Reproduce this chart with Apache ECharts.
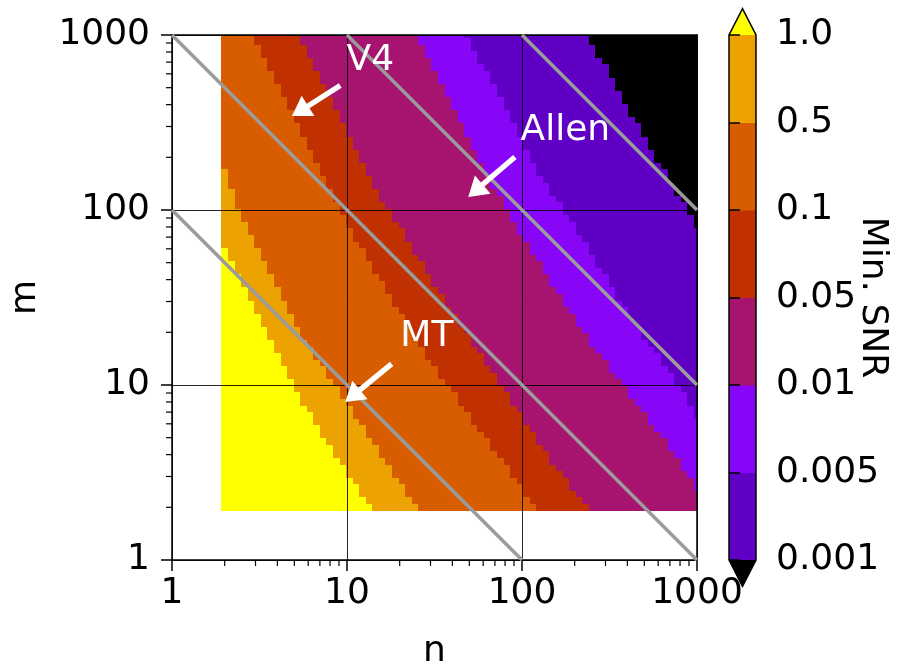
<!DOCTYPE html>
<html><head><meta charset="utf-8">
<script src="https://cdn.jsdelivr.net/npm/echarts@6/dist/echarts.min.js"></script>
<style>html,body{margin:0;padding:0;background:#fff}#c{width:905px;height:668px}</style>
</head><body><div id="c"></div>
<script>
// ---- data -------------------------------------------------------------
// sampling grid used for both n (columns) and m (rows)
const N_VALUES = [2.000,2.180,2.377,2.591,2.825,3.079,3.357,3.659,3.989,4.349,4.741,5.168,5.634,6.142,6.696,7.300,7.958,8.675,9.457,
  10.31,11.24,12.25,13.36,14.56,15.87,17.30,18.87,20.57,22.42,24.44,26.65,29.05,31.67,34.52,37.63,41.03,44.72,48.76,53.15,57.94,63.16,68.86,75.07,81.83,89.21,97.26,
  106.0,115.6,126.0,137.4,149.7,163.2,178.0,194.0,211.5,230.5,251.3,274.0,298.7,325.6,355.0,387.0,421.9,459.9,501.4,546.6,595.8,649.6,708.1,772.0,841.5,917.4,1000];
const M_VALUES = N_VALUES;

// For each column (n index), highest row (m index) whose Min. SNR is >= the threshold.
// Columns past the end of a list have no cell reaching that threshold.
const TOP_GE_0_001 = [72,72,72,72,72,72,72,72,72,72,72,72,72,72,72,72,72,72,72,72,72,72,72,72,72,72,72,72,
  72,72,72,72,72,72,72,72,72,72,72,72,72,72,72,72,72,72,72,72,72,72,72,72,72,72,72,72,
  70,68,67,65,63,61,59,58,56,54,52,51,49,47,46,44,42];
const TOP_GE_0_005 = [72,72,72,72,72,72,72,72,72,72,72,72,72,72,72,72,72,72,72,72,72,72,72,72,72,72,72,72,72,72,72,72,72,72,72,72,72,
  71,69,67,66,64,62,60,58,56,54,52,50,49,47,46,44,43,41,40,38,36,35,33,31,30,28,27,25,24,23,21,20,18,17,15,13];
const TOP_GE_0_01 = [72,72,72,72,72,72,72,72,72,72,72,72,72,72,72,72,72,72,72,72,72,72,72,72,72,72,72,72,72,72,
  70,68,66,64,62,60,58,56,54,52,50,48,47,45,43,41,40,38,37,35,33,32,30,29,27,26,24,23,22,20,19,18,16,15,14,12,11,10,8,7,5,4,2];
const TOP_GE_0_05 = [72,72,72,72,72,72,72,72,72,72,72,72,
  70,68,66,64,62,60,58,56,54,52,50,48,46,45,43,42,40,38,37,35,33,32,30,29,27,26,24,23,21,20,18,17,15,14,12,11,9,8,6,5,4,2,1,0];
const TOP_GE_0_1 = [72,72,72,72,72,
  70,68,66,64,62,60,58,56,54,52,50,48,46,44,42,40,39,37,35,34,32,30,29,27,25,24,22,21,19,18,17,15,14,12,11,10,8,7,6,4,3,1,0];
const TOP_GE_0_5 = [51,48,45,43,41,39,37,35,33,31,29,27,25,24,22,21,19,18,16,15,13,12,10,9,7,6,4,3,1,0];
const TOP_GE_1 = [39,37,35,33,31,29,27,25,23,21,19,17,15,14,12,10,9,7,6,4,3,1,0];

// colour classes (below 0.001 ... above 1.0)
const LEVEL_COLORS = ['#000000','#6000c5','#8806f8','#a71470','#c13000','#d75d00','#eca200','#ffff00'];
const CB_LABELS = ['0.001','0.005','0.01','0.05','0.1','0.5','1.0'];
const AXIS_TICK_LABELS = {1:'1',10:'10',100:'100',1000:'1000'};
const MINOR_TICKS = [2,3,4,5,6,7,8,9,20,30,40,50,60,70,80,90,200,300,400,500,600,700,800,900];

// grey guide lines (m*n constant)
const GUIDE_LINES = [
  [[1,100],[100,1]],
  [[1,1000],[1000,1]],
  [[10,1000],[1000,10]],
  [[100,1000],[1000,100]]
];

// annotations
const ANN_NAMES = ['V4','Allen','MT'];
const ANN_TEXT_N = [13.6, 176.8, 28.6];
const ANN_TEXT_M = [712, 284, 18.8];
const ANN_TAIL_N = [9.15, 91.1, 18.0];
const ANN_TAIL_M = [514, 201, 13.2];
const ANN_TIP_N  = [4.85, 49.3, 9.77];
const ANN_TIP_M  = [344, 118.8, 8.0];

// ---- build ------------------------------------------------------------
const FONT = 'DejaVu Sans';
const FS = 36;
const EDGES = [];
EDGES.push(N_VALUES[0] - (N_VALUES[1]-N_VALUES[0])/2);
for (let k=1;k<N_VALUES.length;k++) EDGES.push((N_VALUES[k-1]+N_VALUES[k])/2);
EDGES.push(N_VALUES[N_VALUES.length-1] + (N_VALUES[N_VALUES.length-1]-N_VALUES[N_VALUES.length-2])/2);
const M_EDGES = EDGES;

const TOPS = [null, TOP_GE_0_001, TOP_GE_0_005, TOP_GE_0_01, TOP_GE_0_05, TOP_GE_0_1, TOP_GE_0_5, TOP_GE_1];
function topOf(L, i){
  if (L === 0) return M_VALUES.length-1;
  if (L >= 8) return -1;
  return i < TOPS[L].length ? TOPS[L][i] : -1;
}
const cells = [];
for (let i=0;i<N_VALUES.length;i++){
  for (let L=0;L<8;L++){
    const lo = topOf(L+1, i) + 1, hi = topOf(L, i);
    if (hi < lo) continue;
    cells.push([EDGES[i], M_EDGES[lo], EDGES[i+1], M_EDGES[hi+1], L]);
  }
}

const chart = echarts.init(document.getElementById('c'), null, {renderer:'canvas'});
const txt = {fontFamily: FONT, fontSize: FS, color:'#000'};
const logFmt = v => AXIS_TICK_LABELS[Math.round(v)] || '';

const cbItems = [];
for (let k=0;k<6;k++) cbItems.push([k, k+1, k+1, 0]);
cbItems.push([0, -0.3, 0, 1]);   // lower extension
cbItems.push([6, 6.3, 7, 2]);    // upper extension
cbItems.push([0, 6, 0, 3]);      // outline

const option = {
  animation: false,
  backgroundColor: '#fff',
  grid: [
    {left:172, top:35, width:525, height:525, containLabel:false, outerBoundsMode:'none'},
    {left:729, top:35, width:27, height:525, containLabel:false, outerBoundsMode:'none'}
  ],
  xAxis: [
    {gridIndex:0, type:'log', logBase:10, min:1, max:1000, position:'bottom', z:3,
     axisLine:{show:true, onZero:false, lineStyle:{color:'#000', width:1.5}},
     axisTick:{show:true, inside:false, length:11, lineStyle:{color:'#000', width:1.5}},
     axisLabel:Object.assign({margin:16, formatter:logFmt}, txt),
     splitLine:{show:true, lineStyle:{color:'rgba(0,0,0,0.85)', width:1}},
     name:'n', nameLocation:'middle', nameGap:74, nameMoveOverlap:false, nameTextStyle:txt},
    {gridIndex:0, type:'log', logBase:10, min:1, max:1000, position:'top', z:3,
     axisLine:{show:true, onZero:false, lineStyle:{color:'#000', width:1.5}},
     axisTick:{show:false}, axisLabel:{show:false}, splitLine:{show:false}},
    {gridIndex:1, type:'value', min:0, max:1, show:false}
  ],
  yAxis: [
    {gridIndex:0, type:'log', logBase:10, min:1, max:1000, position:'left', z:3,
     axisLine:{show:true, onZero:false, lineStyle:{color:'#000', width:1.5}},
     axisTick:{show:true, inside:false, length:11, lineStyle:{color:'#000', width:1.5}},
     axisLabel:Object.assign({margin:22, formatter:logFmt}, txt),
     splitLine:{show:true, lineStyle:{color:'rgba(0,0,0,0.85)', width:1}},
     name:'m', nameLocation:'middle', nameGap:128, nameRotate:90, nameMoveOverlap:false, nameTextStyle:txt},
    {gridIndex:1, type:'value', min:0, max:6, interval:1, position:'right', z:3,
     axisLine:{show:false},
     axisTick:{show:true, inside:false, length:11, lineStyle:{color:'#000', width:1.5}},
     axisLabel:Object.assign({margin:20, formatter: v => CB_LABELS[Math.round(v)]}, txt),
     splitLine:{show:false},
     name:'Min. SNR', nameLocation:'middle', nameGap:98, nameRotate:-90, nameMoveOverlap:false, nameTextStyle:txt},
    {gridIndex:0, type:'log', logBase:10, min:1, max:1000, position:'right', z:3,
     axisLine:{show:true, onZero:false, lineStyle:{color:'#000', width:1.5}},
     axisTick:{show:false}, axisLabel:{show:false}, splitLine:{show:false}}
  ],
  series: [
    {type:'custom', xAxisIndex:0, yAxisIndex:0, z:2, silent:true, progressive:0,
     encode:{x:[0,2], y:[1,3]}, data: cells,
     renderItem(params, api){
       const a = api.coord([api.value(0), api.value(1)]);
       const b = api.coord([api.value(2), api.value(3)]);
       const cs = params.coordSys;
       const x0 = Math.round(Math.max(a[0], cs.x)), x1 = Math.round(Math.min(b[0], cs.x+cs.width));
       const y1 = Math.round(Math.min(a[1], cs.y+cs.height)), y0 = Math.round(Math.max(b[1], cs.y));
       if (x1 <= x0 || y1 <= y0) return;
       return {type:'rect', shape:{x:x0, y:y0, width:x1-x0, height:y1-y0}, style:{fill: LEVEL_COLORS[api.value(4)]}};
     }},
    ...GUIDE_LINES.map(d => ({type:'line', xAxisIndex:0, yAxisIndex:0, data:d, symbol:'none', silent:true, z:5,
      lineStyle:{color:'#9b9b9b', width:3.5}})),
    {type:'custom', xAxisIndex:0, yAxisIndex:0, z:4, silent:true, clip:false,
     data: MINOR_TICKS.map(v => [v, v]),
     renderItem(params, api){
       const v = api.value(0);
       const px = api.coord([v, 1]);
       const py = api.coord([1, v]);
       return {type:'group', children:[
         {type:'line', shape:{x1:px[0], y1:px[1], x2:px[0], y2:px[1]+6}, style:{stroke:'#000', lineWidth:1.2}},
         {type:'line', shape:{x1:py[0], y1:py[1], x2:py[0]-6, y2:py[1]}, style:{stroke:'#000', lineWidth:1.2}}
       ]};
     }},
    {type:'custom', xAxisIndex:0, yAxisIndex:0, z:6, silent:true, clip:false,
     data: ANN_NAMES.map((s,k) => [ANN_TAIL_N[k], ANN_TAIL_M[k], ANN_TIP_N[k], ANN_TIP_M[k]]),
     renderItem(params, api){
       const t = api.coord([api.value(0), api.value(1)]);
       const h = api.coord([api.value(2), api.value(3)]);
       const dx=h[0]-t[0], dy=h[1]-t[1], len=Math.hypot(dx,dy);
       const ux=dx/len, uy=dy/len, nx=-uy, ny=ux;
       const HL=19, HW=12, SW=2.7;
       const bx=h[0]-ux*HL, by=h[1]-uy*HL;
       const pts=[[t[0]+nx*SW,t[1]+ny*SW],[bx+nx*SW,by+ny*SW],[bx+nx*HW,by+ny*HW],[h[0],h[1]],
                  [bx-nx*HW,by-ny*HW],[bx-nx*SW,by-ny*SW],[t[0]-nx*SW,t[1]-ny*SW]];
       return {type:'polygon', shape:{points:pts}, style:{fill:'#fff'}};
     }},
    {type:'custom', xAxisIndex:0, yAxisIndex:0, z:6, silent:true, clip:false,
     data: ANN_NAMES.map((s,k) => [ANN_TEXT_N[k], ANN_TEXT_M[k], k]),
     renderItem(params, api){
       const p = api.coord([api.value(0), api.value(1)]);
       return {type:'text', x:p[0], y:p[1], style:{text: ANN_NAMES[api.value(2)], fill:'#fff',
         font: FS + 'px "' + FONT + '"', align:'center', verticalAlign:'middle'}};
     }},
    {type:'custom', xAxisIndex:2, yAxisIndex:1, z:2, silent:true, clip:false,
     data: cbItems,
     renderItem(params, api){
       const lo=api.value(0), hi=api.value(1), c=api.value(2), kind=api.value(3);
       const p00=api.coord([0,lo]), p11=api.coord([1,hi]);
       if (kind===0){
         return {type:'rect', shape:{x:p00[0], y:p11[1]-0.5, width:p11[0]-p00[0], height:p00[1]-p11[1]+1}, style:{fill:LEVEL_COLORS[c]}};
       }
       if (kind===1 || kind===2){
         const a=api.coord([0,lo]), b=api.coord([1,lo]), tip=api.coord([0.5,hi]);
         return {type:'polygon', shape:{points:[a,b,tip]}, style:{fill:LEVEL_COLORS[c]}};
       }
       const pts=[api.coord([0,0]), api.coord([0.5,-0.3]), api.coord([1,0]), api.coord([1,6]), api.coord([0.5,6.3]), api.coord([0,6])];
       return {type:'polygon', shape:{points:pts}, style:{fill:null, stroke:'#000', lineWidth:1.5}};
     }}
  ]
};
chart.setOption(option);
</script>
</body></html>
